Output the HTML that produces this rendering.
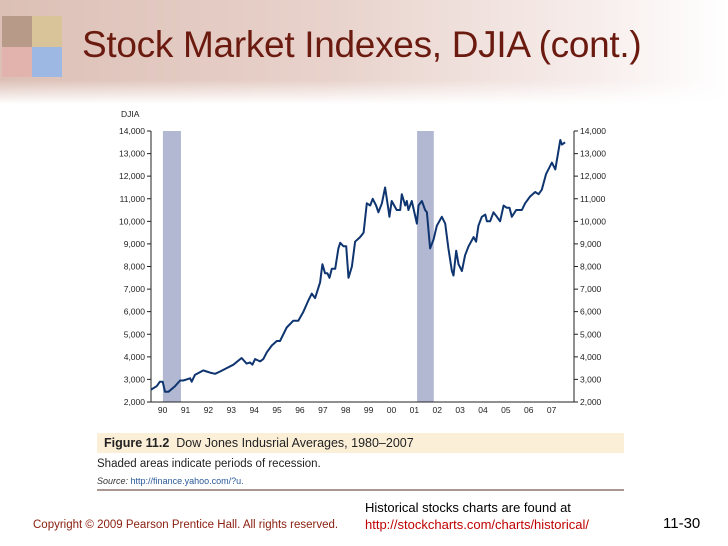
<!DOCTYPE html>
<html><head><meta charset="utf-8"><style>
body{margin:0;width:728px;height:546px;overflow:hidden;background:#fff;font-family:"Liberation Sans",sans-serif;position:relative}
#hdr{position:absolute;left:0;top:0;width:728px;height:104px;background:linear-gradient(to bottom,rgba(255,255,255,0) 0,rgba(255,255,255,0) 80px,#fff 104px),linear-gradient(to right,#dcc0b6 0,#e8d2cb 45%,#f6ecea 80%,#fff 100%)}
.q{position:absolute}
#title{position:absolute;left:82px;top:24px;font-size:37px;color:#6b1a10;white-space:nowrap;letter-spacing:-0.3px}
.t{position:absolute;white-space:nowrap}
</style></head><body>
<div id="hdr"></div>
<div>
<div class="q" style="left:2px;top:16px;width:30px;height:31px;background:#b89a88"></div>
<div class="q" style="left:32px;top:16px;width:30px;height:31px;background:#d9c49a"></div>
<div class="q" style="left:2px;top:47px;width:30px;height:30px;background:#e2b2ad"></div>
<div class="q" style="left:32px;top:47px;width:30px;height:30px;background:#9db8e2"></div>
</div>
<div id="title">Stock Market Indexes, DJIA (cont.)</div>
<svg id="chart" width="728" height="546" style="position:absolute;left:0;top:0"></svg>
<div style="position:absolute;left:97px;top:433px;width:527px;height:20px;background:#fbefd8"></div>
<div class="t" style="left:104px;top:436px;font-size:12.5px;color:#222"><b>Figure 11.2</b>&nbsp;&nbsp;Dow Jones Indusrial Averages, 1980–2007</div>
<div class="t" style="left:97px;top:458px;font-size:11.5px;color:#222">Shaded areas indicate periods of recession.</div>
<div class="t" style="left:97px;top:476px;font-size:9px;color:#333"><i>Source:</i> <span style="color:#2a5a9a">http://finance.yahoo.com/?u.</span></div>
<div style="position:absolute;left:97px;top:489px;width:527px;height:2px;background:#a89890"></div>
<div class="t" style="left:365px;top:500px;font-size:13px;color:#000">Historical stocks charts are found at</div>
<div class="t" style="left:365px;top:517px;font-size:13px;color:#c00000">http://stockcharts.com/charts/historical/</div>
<div class="t" style="left:33px;top:519px;font-size:11.5px;color:#8b2010">Copyright © 2009 Pearson Prentice Hall. All rights reserved.</div>
<div class="t" style="left:663px;top:515px;font-size:15px;color:#000">11-30</div>
<script>
const years=[1989.49,1989.74,1989.88,1990.00,1990.10,1990.25,1990.54,1990.76,1990.90,1991.20,1991.27,1991.41,1991.78,1991.92,1992.07,1992.29,1992.51,1992.80,1993.09,1993.45,1993.67,1993.82,1993.92,1994.04,1994.26,1994.40,1994.55,1994.77,1994.99,1995.13,1995.42,1995.71,1995.93,1996.15,1996.37,1996.52,1996.66,1996.88,1996.98,1997.10,1997.20,1997.29,1997.39,1997.54,1997.68,1997.76,1997.90,1998.02,1998.12,1998.27,1998.41,1998.63,1998.78,1998.92,1999.07,1999.18,1999.33,1999.43,1999.58,1999.72,1999.87,1999.91,2000.01,2000.23,2000.38,2000.45,2000.60,2000.67,2000.74,2000.89,2001.11,2001.18,2001.33,2001.47,2001.55,2001.69,2001.84,2001.98,2002.20,2002.35,2002.49,2002.64,2002.71,2002.83,2002.93,2003.08,2003.22,2003.37,2003.59,2003.70,2003.80,2003.95,2004.10,2004.17,2004.31,2004.46,2004.61,2004.75,2004.90,2005.04,2005.16,2005.26,2005.45,2005.55,2005.70,2005.84,2006.06,2006.28,2006.43,2006.57,2006.76,2007.01,2007.16,2007.38,2007.45,2007.59];
const djia=[2550,2700,2900,2900,2450,2450,2700,2950,2950,3050,2900,3200,3400,3350,3300,3250,3350,3500,3650,3950,3700,3750,3650,3900,3800,3900,4200,4500,4700,4700,5300,5600,5600,6000,6500,6800,6600,7300,8100,7700,7700,7500,7900,7900,8800,9050,8900,8900,7500,8000,9100,9300,9500,10800,10700,11000,10700,10400,10800,11500,10500,10200,10900,10500,10500,11200,10700,10900,10500,10900,9900,10700,10900,10500,10400,8800,9200,9800,10200,9900,8800,7800,7600,8700,8100,7800,8500,8900,9300,9100,9800,10200,10300,10000,10000,10400,10200,10000,10700,10600,10600,10200,10500,10500,10500,10800,11100,11300,11200,11400,12100,12600,12300,13600,13400,13500];
const recessionStart=[1990.01,2001.12];
const recessionEnd=[1990.80,2001.85];
const yTicks=[2000,3000,4000,5000,6000,7000,8000,9000,10000,11000,12000,13000,14000];
const xLabels=["90","91","92","93","94","95","96","97","98","99","00","01","02","03","04","05","06","07"];
const xLabelYears=[1990,1991,1992,1993,1994,1995,1996,1997,1998,1999,2000,2001,2002,2003,2004,2005,2006,2007];

const L=151,R=574,T=131,B=402;
const x=t=>162.67+(t-1990)*22.88;
const y=v=>B-(v-2000)/12000*(B-T);
const svg=document.getElementById('chart');
const NS='http://www.w3.org/2000/svg';
function mk(tag,at){const e=document.createElementNS(NS,tag);for(const k in at)e.setAttribute(k,at[k]);svg.appendChild(e);return e;}
for(let i=0;i<recessionStart.length;i++){
 const r=mk('rect',{x:x(recessionStart[i]),y:T,width:x(recessionEnd[i])-x(recessionStart[i]),height:B-T,fill:'#b2b8d2'});
 
 
}
const ax=mk('path',{d:`M${L},${T}V${B}H${R}V${T}`,fill:'none',stroke:'#222','stroke-width':1});


yTicks.forEach(v=>{
 const yy=y(v);
 const tk=mk('path',{d:`M${L-4},${yy}H${L}M${R},${yy}H${R+4}`,stroke:'#222','stroke-width':1});
 
 
 const lab=v.toLocaleString('en-US');
 const a=mk('text',{x:L-6,y:yy+3,'font-size':8.5,'text-anchor':'end',fill:'#222','font-family':'Liberation Sans'});a.textContent=lab;
 
 
 const b=mk('text',{x:R+6,y:yy+3,'font-size':8.5,fill:'#222','font-family':'Liberation Sans'});b.textContent=lab;
 
 
});
xLabels.forEach((s,i)=>{
 const t=mk('text',{x:x(xLabelYears[i]),y:413,'font-size':8.5,'text-anchor':'middle',fill:'#222','font-family':'Liberation Sans'});t.textContent=s;
 
 
});
const yt=mk('text',{x:121,y:117,'font-size':8.5,fill:'#222','font-family':'Liberation Sans'});yt.textContent='DJIA';


const ln=mk('polyline',{points:years.map((t,i)=>x(t).toFixed(1)+','+y(djia[i]).toFixed(1)).join(' '),fill:'none',stroke:'#0f3570','stroke-width':2,'stroke-linejoin':'round'});


</script>
</body></html>
